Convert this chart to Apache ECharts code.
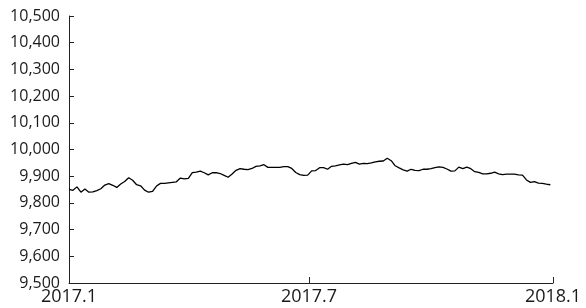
<!DOCTYPE html>
<html>
<head>
<meta charset="utf-8">
<script src="https://cdn.jsdelivr.net/npm/echarts@6/dist/echarts.min.js"></script>
<style>
  html, body { margin: 0; padding: 0; background: #fff; }
  #chartWrap { width: 586px; height: 308px; }
</style>
</head>
<body>
<div id="chartWrap"></div>
<script>
// index level, one reading every 3 days from 2017-01-01
const startDate = '2017-01-01';
const stepDays = 3;
const values = [
    9851, 9847, 9860, 9840, 9852, 9840, 9841, 9846, 9853, 9867,
    9872, 9866, 9858, 9871, 9880, 9894, 9885, 9868, 9864, 9848,
    9840, 9843, 9863, 9873, 9873, 9875, 9877, 9879, 9893, 9890,
    9892, 9913, 9915, 9919, 9913, 9905, 9913, 9913, 9910, 9903,
    9896, 9908, 9922, 9928, 9926, 9925, 9929, 9937, 9939, 9943,
    9933, 9933, 9933, 9933, 9936, 9936, 9929, 9914, 9906, 9903,
    9904, 9920, 9921, 9932, 9932, 9926, 9937, 9939, 9942, 9945,
    9943, 9948, 9952, 9945, 9948, 9947, 9950, 9954, 9956, 9957,
    9967, 9958, 9939, 9931, 9924, 9919, 9926, 9922, 9921, 9926,
    9926, 9928, 9932, 9935, 9933, 9927, 9919, 9920, 9934, 9928,
    9934, 9928, 9917, 9914, 9909, 9909, 9911, 9915, 9909, 9906,
    9908, 9908, 9908, 9905, 9904, 9886, 9877, 9880, 9874, 9873,
    9870, 9868
];
const tickDates = ['2017-01-01', '2017-07-01', '2018-01-01'];
const tickLabels = ['2017.1', '2017.7', '2018.1'];

const DAY = 24 * 3600 * 1000;
const t0 = Date.parse(startDate + 'T00:00:00Z');
const seriesData = values.map(function (v, i) {
    return [t0 + i * stepDays * DAY, v];
});
const tickTimes = tickDates.map(function (d) {
    return Date.parse(d + 'T00:00:00Z');
});

const myChart = echarts.init(document.getElementById('chartWrap'));

myChart.setOption({
    animation: false,
    grid: {left: 69, right: 33, top: 16, bottom: 25},
    xAxis: {
        type: 'value',
        min: tickTimes[0],
        max: tickTimes[tickTimes.length - 1],
        axisLine: {lineStyle: {color: '#222', width: 1}},
        axisTick: {
            inside: true,
            length: 6,
            lineStyle: {color: '#222'},
            customValues: tickTimes
        },
        axisLabel: {
            margin: 5,
            color: '#1a1a1a',
            fontFamily: 'Open Sans',
            fontSize: 18,
            customValues: tickTimes,
            formatter: function (val) {
                const idx = tickTimes.indexOf(val);
                return idx >= 0 ? tickLabels[idx] : '';
            }
        },
        splitLine: {show: false}
    },
    yAxis: {
        type: 'value',
        min: 9500,
        max: 10500,
        interval: 100,
        axisLine: {show: true, lineStyle: {color: '#222', width: 1}},
        axisTick: {show: true, inside: true, length: 5, lineStyle: {color: '#222'}},
        axisLabel: {
            margin: 9,
            color: '#1a1a1a',
            fontFamily: 'Open Sans',
            fontSize: 16,
            formatter: function (v) {
                return v.toLocaleString('en-US');
            }
        },
        splitLine: {show: false}
    },
    series: [{
        type: 'line',
        data: seriesData,
        showSymbol: false,
        lineStyle: {color: '#000', width: 1.3}
    }]
});
</script>
</body>
</html>
